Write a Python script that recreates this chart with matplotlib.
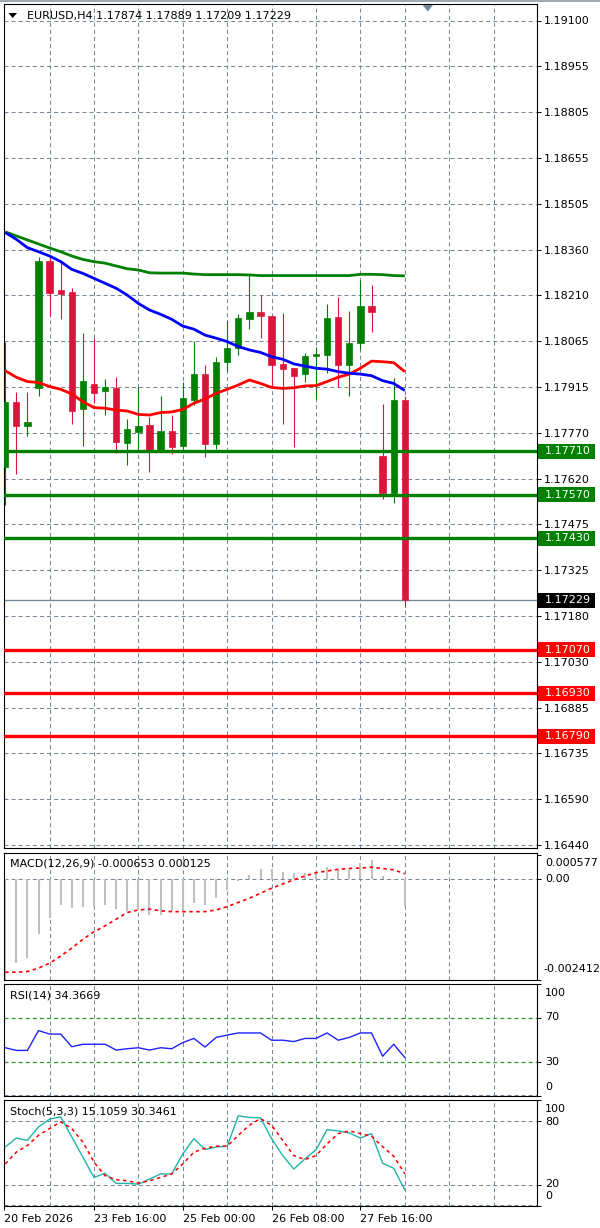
import matplotlib
matplotlib.use("Agg")
import matplotlib.pyplot as plt
from matplotlib.patches import Rectangle, Polygon

plt.rcParams['font.family'] = ['DejaVu Sans']
plt.rcParams['lines.scale_dashes'] = False

# ---------------- data ----------------
opens = [1.17658, 1.17870, 1.17792, 1.17913, 1.18324, 1.18229, 1.18225, 1.17845, 1.17928, 1.17904,
         1.17915, 1.17738, 1.17773, 1.17795, 1.17714, 1.17776, 1.17728, 1.17876, 1.17959, 1.17734,
         1.17999, 1.18042, 1.18137, 1.18161, 1.18148, 1.17991, 1.17978, 1.17958, 1.18018, 1.18021,
         1.18142, 1.17988, 1.18061, 1.18179, 1.17695, 1.17574, 1.17874]
highs = [1.18064, 1.17902, 1.17902, 1.18338, 1.18338, 1.18327, 1.18238, 1.18091, 1.18077, 1.17942,
         1.17951, 1.17813, 1.17919, 1.17822, 1.17888, 1.17827, 1.17935, 1.18067, 1.17987, 1.18013,
         1.18130, 1.18152, 1.18279, 1.18214, 1.18148, 1.18157, 1.17978, 1.18026, 1.18048, 1.18184,
         1.18207, 1.18163, 1.18263, 1.18247, 1.17862, 1.17945, 1.17889]
lows = [1.17537, 1.17637, 1.17759, 1.17890, 1.18147, 1.18136, 1.17797, 1.17728, 1.17867, 1.17827,
        1.17703, 1.17666, 1.17714, 1.17644, 1.17714, 1.17701, 1.17714, 1.17859, 1.17693, 1.17716,
        1.17970, 1.18021, 1.18105, 1.18075, 1.17922, 1.17797, 1.17725, 1.17935, 1.17878, 1.17962,
        1.17919, 1.17890, 1.18039, 1.18096, 1.17555, 1.17544, 1.17209]
closes = [1.17870, 1.17792, 1.17804, 1.18324, 1.18222, 1.18218, 1.17840, 1.17937, 1.17899, 1.17919,
          1.17739, 1.17781, 1.17793, 1.17711, 1.17776, 1.17724, 1.17883, 1.17959, 1.17734, 1.17999,
          1.18044, 1.18139, 1.18161, 1.18147, 1.17988, 1.17976, 1.17953, 1.18018, 1.18023, 1.18139,
          1.17988, 1.18058, 1.18179, 1.18158, 1.17574, 1.17876, 1.17229]

ma_green = [1.18418, 1.18405, 1.18392, 1.18379, 1.18366, 1.18354, 1.18340, 1.18329, 1.18322, 1.18317,
            1.18308, 1.18299, 1.18295, 1.18286, 1.18285, 1.18285, 1.18285, 1.18282, 1.18280, 1.18280,
            1.18280, 1.18280, 1.18279, 1.18277, 1.18277, 1.18277, 1.18277, 1.18277, 1.18277, 1.18277,
            1.18277, 1.18277, 1.18281, 1.18281, 1.18280, 1.18277, 1.18276]
ma_blue = [1.18416, 1.18394, 1.18367, 1.18354, 1.18340, 1.18322, 1.18297, 1.18284, 1.18268, 1.18252,
           1.18236, 1.18214, 1.18187, 1.18166, 1.18152, 1.18136, 1.18114, 1.18104, 1.18085, 1.18075,
           1.18064, 1.18048, 1.18037, 1.18029, 1.18015, 1.18007, 1.17992, 1.17985, 1.17978, 1.17975,
           1.17967, 1.17962, 1.17959, 1.17954, 1.17938, 1.17929, 1.17906]
ma_red = [1.17970, 1.17949, 1.17935, 1.17932, 1.17919, 1.17910, 1.17895, 1.17870, 1.17851, 1.17849,
          1.17843, 1.17840, 1.17829, 1.17827, 1.17835, 1.17837, 1.17845, 1.17865, 1.17879, 1.17897,
          1.17910, 1.17924, 1.17940, 1.17929, 1.17916, 1.17913, 1.17915, 1.17921, 1.17922, 1.17935,
          1.17949, 1.17959, 1.17978, 1.18001, 1.17999, 1.17996, 1.17967]

support_levels = [1.17710, 1.17570, 1.17430]
resist_levels = [1.17070, 1.16930, 1.16790]
last_price = 1.17229
price_top, price_bottom = 1.19100, 1.16440
price_tick_labels = ['1.19100', '1.18955', '1.18805', '1.18655', '1.18505', '1.18360', '1.18210',
                     '1.18065', '1.17915', '1.17770', '1.17620', '1.17475', '1.17325', '1.17180',
                     '1.17030', '1.16885', '1.16735', '1.16590', '1.16440']

macd_main = [-0.00241, -0.00201, -0.00189, -0.00132, -0.00094, -0.00062, -0.00070, -0.00066, -0.00066,
             -0.00062, -0.00072, -0.00076, -0.00072, -0.00086, -0.00086, -0.00076, -0.00076, -0.00058,
             -0.00062, -0.00046, -0.00026, -0.00004, 0.000095, 0.00023, 0.00025, 0.000175, 0.00015,
             0.000135, 0.00020, 0.00029, 0.00025, 0.000215, 0.00039, 0.00045, 0.00006, -0.00002,
             -0.000653]
macd_signal = [-0.002226, -0.002226, -0.00221, -0.00213, -0.00201, -0.00184, -0.00165, -0.00144,
               -0.00126, -0.00112, -0.00096, -0.00080, -0.00074, -0.00072, -0.00076, -0.00078,
               -0.00078, -0.00078, -0.00078, -0.00074, -0.00066, -0.00056, -0.00046, -0.00034,
               -0.00022, -0.00012, -0.00002, 0.00007, 0.00015, 0.00019, 0.00023, 0.00025, 0.00026,
               0.00028, 0.00025, 0.00022, 0.000125]
macd_max, macd_min = 0.000577, -0.002412

rsi_vals = [43.1, 40.7, 40.7, 58.4, 55.3, 55.3, 44.0, 46.2, 46.2, 46.2, 41.0, 42.2, 43.1, 41.0, 43.1,
            42.2, 47.7, 51.4, 43.7, 52.3, 54.4, 56.3, 56.3, 56.3, 49.8, 49.8, 48.6, 51.4, 51.4, 56.3,
            49.8, 52.3, 56.3, 56.3, 35.5, 46.2, 34.37]

stoch_k = [55.6, 64.1, 61.9, 74.6, 81.9, 84.1, 65.1, 46.0, 27.0, 30.8, 21.3, 21.3, 20.6, 25.4, 30.2,
           30.2, 49.2, 63.5, 53.3, 55.6, 56.5, 85.1, 83.5, 83.2, 63.5, 47.6, 34.9, 44.4, 53.0, 72.1,
           70.8, 68.9, 64.1, 68.3, 40.3, 35.6, 15.11]
stoch_d = [39.7, 50.8, 57.1, 66.7, 73.0, 79.4, 73.0, 60.3, 41.3, 28.6, 24.8, 23.8, 21.6, 23.8, 27.0,
           30.2, 39.7, 50.8, 54.6, 56.5, 56.5, 66.7, 76.2, 82.5, 76.2, 61.9, 47.6, 43.8, 47.6, 58.7,
           68.3, 70.8, 68.3, 66.0, 56.0, 47.0, 30.35]

date_labels = ['20 Feb 2026', '23 Feb 16:00', '25 Feb 00:00', '26 Feb 08:00', '27 Feb 16:00']
date_label_bars = [None, 8, 16, 24, 32]

title_main = 'EURUSD,H4 1.17874 1.17889 1.17209 1.17229'
title_macd = 'MACD(12,26,9) -0.000653 0.000125'
title_rsi = 'RSI(14) 34.3669'
title_stoch = 'Stoch(5,3,3) 15.1059 30.3461'

# ---------------- style / layout ----------------
W, H, DPI = 600, 1228, 100
X0, DX = 5.2, 11.1
LEFT, RIGHT = 3.5, 536.5
XLIM = ((LEFT - X0) / DX, (RIGHT - X0) / DX)
GRID = '#778899'
DASH = (0, (2.9, 2.2))
BULL = '#008000'
BEAR = '#DC143C'
FS = 8

fig = plt.figure(figsize=(W / DPI, H / DPI), dpi=DPI)
fig.patch.set_facecolor('white')


def fx(px):
    return px / W


def fy(py):
    return 1 - py / H


def add_panel(top, bottom):
    ax = fig.add_axes([fx(LEFT), fy(bottom), (RIGHT - LEFT) / W, (bottom - top) / H])
    ax.set_xlim(*XLIM)
    for s in ax.spines.values():
        s.set_linewidth(0.8)
        s.set_color('black')
    ax.tick_params(axis='x', bottom=False, labelbottom=False)
    ax.yaxis.tick_right()
    ax.tick_params(axis='y', right=True, left=False, length=3, width=0.7, pad=2,
                   labelsize=FS, colors='black')
    for g in range(4, 48, 4):
        ax.axvline(g, color=GRID, lw=0.75, ls=DASH, zorder=0)
    return ax


def ypx(ax, v):
    return H - ax.transData.transform((0, v))[1]


# ---------------- main panel ----------------
scale = 30993.0
ax = add_panel(4, 848)
ax.set_ylim(price_top - (848 - 20.5) / scale, price_top + (20.5 - 4) / scale)
n_ticks = len(price_tick_labels)
tick_vals = [price_top - k * (price_top - price_bottom) / (n_ticks - 1) for k in range(n_ticks)]
ax.set_yticks(tick_vals)
ax.set_yticklabels(price_tick_labels)
for v in tick_vals:
    ax.axhline(v, color=GRID, lw=0.75, ls=DASH, zorder=0)

ax.axhline(last_price, color=GRID, lw=1, zorder=1)

bw = 0.56
for i, (o, h, l, c) in enumerate(zip(opens, highs, lows, closes)):
    col = BULL if c >= o else BEAR
    ax.vlines(i, l, h, color=col, lw=0.8, zorder=2)
    lo, hi = min(o, c), max(o, c)
    ax.add_patch(Rectangle((i - bw / 2, lo), bw, max(hi - lo, 0.00003), facecolor=col,
                           edgecolor=col, lw=0.5, zorder=3))

xs = list(range(len(closes)))
ax.plot(xs, ma_green, color='#008000', lw=2, zorder=4, solid_capstyle='butt')
ax.plot(xs, ma_red, color='#FF0000', lw=2, zorder=4, solid_capstyle='butt')
ax.plot(xs, ma_blue, color='#0000FF', lw=2, zorder=4, solid_capstyle='butt')

for v in support_levels:
    ax.axhline(v, color='#008000', lw=2.4, zorder=5)
for v in resist_levels:
    ax.axhline(v, color='#FF0000', lw=2.4, zorder=5)

fig.canvas.draw()


def level_box(v, fc):
    yc = ypx(ax, v)
    fig.patches.append(Rectangle((fx(538), fy(yc + 7.5)), 57 / W, 15 / H, transform=fig.transFigure,
                                 facecolor=fc, edgecolor=fc, lw=0, zorder=5))
    fig.text(fx(545), fy(yc), '%.5f' % v, color='white', fontsize=FS, va='center', ha='left', zorder=6)


for v in support_levels:
    level_box(v, '#008000')
for v in resist_levels:
    level_box(v, '#FF0000')
level_box(last_price, '#000000')

# title & markers
fig.patches.append(Polygon([(fx(8.5), fy(13)), (fx(17), fy(13)), (fx(12.75), fy(18))], closed=True,
                           transform=fig.transFigure, facecolor='black', edgecolor='black', lw=0))
fig.text(fx(27), fy(15.5), title_main, fontsize=FS, va='center', ha='left', color='black')
fig.patches.append(Polygon([(fx(422.5), fy(5)), (fx(433), fy(5)), (fx(427.75), fy(11.5))], closed=True,
                           transform=fig.transFigure, facecolor='#778899', edgecolor='#778899', lw=0))
fig.patches.append(Rectangle((0, fy(1.5)), 1, 1.5 / H, transform=fig.transFigure,
                             facecolor='#A0A8B0', lw=0))

# ---------------- MACD ----------------
axm = add_panel(853, 980)
mscale = 1 / 2.385e-5
axm.set_ylim(-(980 - 879) / mscale, (879 - 853) / mscale)
axm.axhline(0, color=GRID, lw=0.75, ls=DASH, zorder=0)
axm.vlines(xs, 0, macd_main, color='#C0C0C0', lw=1.5, zorder=2)
axm.plot(xs, macd_signal, color='#FF0000', lw=1.2, ls=(0, (2.5, 2.5)), zorder=3)
axm.set_yticks([macd_max, 0, macd_min])
axm.set_yticklabels([])
fig.text(fx(545), fy(863), '%.6f' % macd_max, fontsize=FS, va='center', ha='left')
fig.text(fx(545), fy(879), '0.00', fontsize=FS, va='center', ha='left')
fig.text(fx(543), fy(969), '%.6f' % macd_min, fontsize=FS, va='center', ha='left')
fig.text(fx(10), fy(864), title_macd, fontsize=FS, va='center', ha='left')

# ---------------- RSI ----------------
axr = add_panel(984, 1096)
axr.set_ylim(0, 100)
axr.axhline(70, color='#2E9B2E', lw=0.9, ls=DASH, zorder=1)
axr.axhline(30, color='#2E9B2E', lw=0.9, ls=DASH, zorder=1)
axr.axhline(0.6, color=GRID, lw=0.75, ls=DASH, zorder=1)
axr.plot(xs, rsi_vals, color='#2020FF', lw=1, zorder=3)
axr.set_yticks([100, 70, 30, 0])
axr.set_yticklabels([])
for lab, py in [('100', 993), ('70', 1017.5), ('30', 1062), ('0', 1087)]:
    fig.text(fx(545), fy(py), lab, fontsize=FS, va='center', ha='left')
fig.text(fx(10), fy(996), title_rsi, fontsize=FS, va='center', ha='left')

# ---------------- Stochastic ----------------
axs = add_panel(1100, 1206)
axs.set_ylim(0, 100)
axs.axhline(80, color=GRID, lw=0.75, ls=DASH, zorder=1)
axs.axhline(20, color=GRID, lw=0.75, ls=DASH, zorder=1)
axs.axhline(0.6, color=GRID, lw=0.75, ls=DASH, zorder=1)
axs.plot(xs, stoch_k, color='#20B2AA', lw=1, zorder=3)
axs.plot(xs, stoch_d, color='#FF0000', lw=1.1, ls=(0, (2.5, 2.5)), zorder=3)
axs.set_yticks([100, 80, 20, 0])
axs.set_yticklabels([])
for lab, py in [('100', 1109), ('80', 1122), ('20', 1184), ('0', 1196)]:
    fig.text(fx(545), fy(py), lab, fontsize=FS, va='center', ha='left')
fig.text(fx(10), fy(1112), title_stoch, fontsize=FS, va='center', ha='left')

# date axis
tick_pos = [XLIM[0] + 0.03 if b is None else b for b in date_label_bars]
axs.set_xticks(tick_pos)
axs.set_xticklabels(date_labels)
axs.tick_params(axis='x', bottom=True, labelbottom=True, length=3, width=0.7, pad=2.5,
                labelsize=FS, colors='black')
for lbl in axs.get_xticklabels():
    lbl.set_ha('left')

fig.savefig('out.png', dpi=DPI, facecolor='white')
